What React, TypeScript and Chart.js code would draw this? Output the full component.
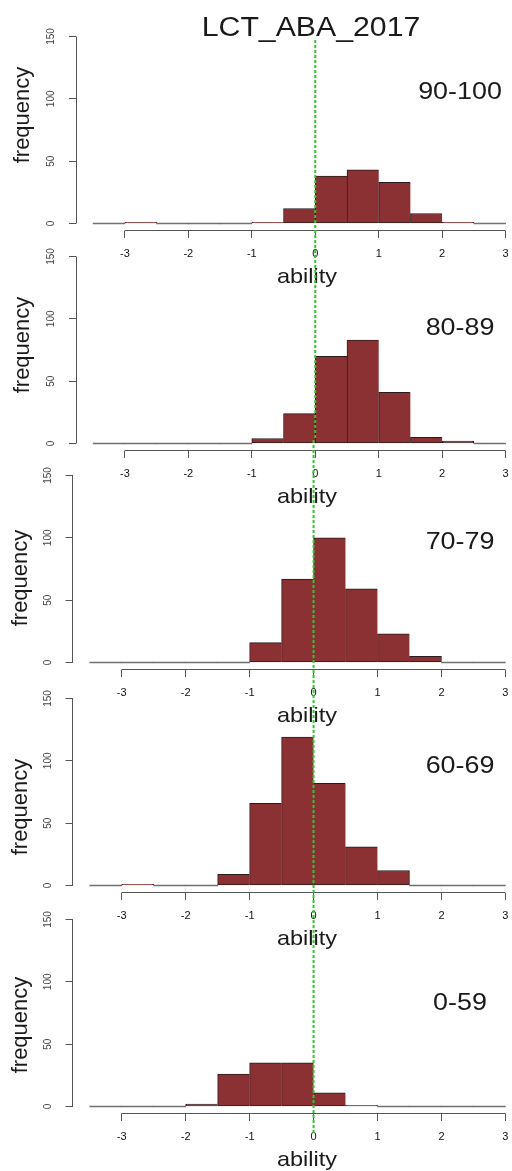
import React, { useEffect, useRef } from "react";
import { Chart, registerables } from "chart.js";

Chart.register(...registerables);

// ---------------- data ----------------
const chartTitle = "LCT_ABA_2017";
const xAxisLabel = "ability";
const yAxisLabel = "frequency";
const binCenters = [-3.25, -2.75, -2.25, -1.75, -1.25, -0.75, -0.25, 0.25, 0.75, 1.25, 1.75, 2.25, 2.75];
const groupLabels = ["90-100", "80-89", "70-79", "60-69", "0-59"];
const counts90to100 = [0, 1, 0, 0, 0, 1, 12, 38, 43, 33, 8, 1, 0];
const counts80to89 = [0, 0, 0, 0, 0, 4, 24, 70, 83, 41, 5, 2, 0];
const counts70to79 = [0, 0, 0, 0, 0, 16, 67, 100, 59, 23, 5, 0, 0];
const counts60to69 = [0, 1, 0, 0, 9, 66, 119, 82, 31, 12, 0, 0, 0];
const counts0to59 = [0, 0, 0, 2, 26, 35, 35, 11, 1, 0, 0, 0, 0];
const xTickValues = [-3, -2, -1, 0, 1, 2, 3];
const yTickValues = [0, 50, 100, 150];
const referenceLineValue = 0;

const allCounts = [counts90to100, counts80to89, counts70to79, counts60to69, counts0to59];

// ---------------- layout / style ----------------
const W = 538;
const H = 288;
const X_MIN = -3.77;
const X_MAX = 3.51;
const Y_MIN = -6;
const Y_MAX = 156;
const Y150_LOCAL = 36.5;
const AXIS_SPAN = 187;
const UNIT = AXIS_SPAN / 150;
const PAD_TOP = Y150_LOCAL - (Y_MAX - 150) * UNIT;
const AREA_BOTTOM = Y150_LOCAL + AXIS_SPAN + (0 - Y_MIN) * UNIT;
const X_AXIS_H = H - AREA_BOTTOM;

const panels = [
  { top: 0, left: 76, groupY: 90, freqY: 115, freqX: 29 },
  { top: 220, left: 76, groupY: 106.7, freqY: 125, freqX: 29 },
  { top: 439, left: 72.5, groupY: 101, freqY: 139, freqX: 27 },
  { top: 662, left: 72.5, groupY: 102, freqY: 145, freqX: 27 },
  { top: 883, left: 72.5, groupY: 118.7, freqY: 142, freqX: 27 },
];
const greenStart = 38;
const greenEnd = 1133;

const FONT = "'Liberation Sans', Arial, Helvetica, sans-serif";
const BAR_FILL = "#8b3033";
const BAR_EDGE = "#2a1c1c";
const ZERO_FILL = "#707070";
const AXIS_COLOR = "#555555";
const TEXT_COLOR = "#1a1a1a";
const GREEN = "#2fc82f";
const STRETCH = 1.12;

function drawText(
  ctx: CanvasRenderingContext2D,
  text: string,
  x: number,
  y: number,
  size: number,
  opts: { stretch?: number; rotate?: number; align?: CanvasTextAlign; baseline?: CanvasTextBaseline } = {}
) {
  ctx.save();
  ctx.translate(x, y);
  if (opts.rotate) ctx.rotate(opts.rotate);
  if (opts.stretch) ctx.scale(opts.stretch, 1);
  ctx.font = `${size}px ${FONT}`;
  ctx.fillStyle = TEXT_COLOR;
  ctx.textAlign = opts.align || "center";
  ctx.textBaseline = opts.baseline || "alphabetic";
  ctx.fillText(text, 0, 0);
  ctx.restore();
}

function Panel({ index }: { index: number }) {
  const ref = useRef<HTMLCanvasElement>(null);
  const p = panels[index];

  useEffect(() => {
    const canvas = ref.current;
    if (!canvas) return;
    const counts = allCounts[index];
    const segStart = index === 0 ? greenStart : p.top;
    const segEnd = index === panels.length - 1 ? greenEnd : panels[index + 1].top;

    const overlay = {
      id: "rOverlay",
      afterDraw(chart: any) {
        const { ctx, chartArea } = chart;
        const xs = chart.scales.x;
        const ys = chart.scales.y;
        const al = (v: number) => Math.round(v - 0.5) + 0.5;
        ctx.save();
        ctx.strokeStyle = AXIS_COLOR;
        ctx.lineWidth = 1;
        // x axis line (tick range only, R style)
        const ay = al(chartArea.bottom);
        ctx.beginPath();
        ctx.moveTo(al(xs.getPixelForValue(xTickValues[0])), ay);
        ctx.lineTo(al(xs.getPixelForValue(xTickValues[xTickValues.length - 1])), ay);
        ctx.stroke();
        // y axis line
        const ax = al(chartArea.left);
        ctx.beginPath();
        ctx.moveTo(ax, al(ys.getPixelForValue(yTickValues[0])));
        ctx.lineTo(ax, al(ys.getPixelForValue(yTickValues[yTickValues.length - 1])));
        ctx.stroke();
        ctx.restore();

        // texts
        if (index === 0) drawText(ctx, chartTitle, 311, 36, 27, { stretch: STRETCH });
        drawText(ctx, groupLabels[index], 460, p.groupY + 8.6, 24, { stretch: STRETCH });
        drawText(ctx, yAxisLabel, p.freqX, p.freqY, 22, { rotate: -Math.PI / 2 });
        drawText(ctx, xAxisLabel, 307, chartArea.bottom + 52, 21, { stretch: STRETCH });

        // green dashed reference line
        ctx.save();
        ctx.strokeStyle = GREEN;
        ctx.lineWidth = 2;
        ctx.setLineDash([3, 2]);
        ctx.lineDashOffset = segStart;
        const gx = xs.getPixelForValue(referenceLineValue);
        ctx.beginPath();
        ctx.moveTo(gx, segStart - p.top);
        ctx.lineTo(gx, segEnd - p.top);
        ctx.stroke();
        ctx.restore();
      },
    };

    const chart = new Chart(canvas, {
      type: "bar",
      data: {
        datasets: [
          {
            data: binCenters.map((x, i) => ({ x, y: counts[i] })),
            backgroundColor: (c: any) => (c.raw && c.raw.y === 0 ? ZERO_FILL : BAR_FILL),
            borderColor: BAR_EDGE,
            borderWidth: (c: any) => {
              const i = c.dataIndex;
              if (i === undefined) return 1;
              if (counts[i] === 0) return 0;
              const nextZero = i === counts.length - 1 || counts[i + 1] === 0;
              return { top: 1, left: 1, bottom: 1, right: nextZero ? 1 : 0 };
            },
            borderSkipped: false,
            minBarLength: 1,
            categoryPercentage: 1,
            barPercentage: 1,
            grouped: false,
          } as any,
        ],
      },
      options: {
        responsive: false,
        animation: false,
        devicePixelRatio: 1,
        layout: { padding: { top: PAD_TOP, left: 0, right: 0, bottom: 0 } },
        plugins: {
          legend: { display: false },
          tooltip: { enabled: false },
          title: { display: false },
        },
        scales: {
          x: {
            type: "linear",
            min: X_MIN,
            max: X_MAX,
            offset: false,
            border: { display: false },
            grid: {
              offset: false,
              drawOnChartArea: false,
              drawTicks: true,
              tickLength: 7,
              color: AXIS_COLOR,
              lineWidth: 1,
            },
            ticks: {
              autoSkip: false,
              includeBounds: false,
              minRotation: 0,
              maxRotation: 0,
              padding: 9,
              color: "#111",
              font: { family: FONT, size: 11 },
              callback: (v: any) => String(v),
            },
            afterBuildTicks: (s: any) => {
              s.ticks = xTickValues.map((v) => ({ value: v }));
            },
            afterFit: (s: any) => {
              s.height = X_AXIS_H;
            },
          },
          y: {
            type: "linear",
            min: Y_MIN,
            max: Y_MAX,
            border: { display: false },
            grid: {
              drawOnChartArea: false,
              drawTicks: true,
              tickLength: 7,
              color: AXIS_COLOR,
              lineWidth: 1,
            },
            ticks: {
              autoSkip: false,
              includeBounds: false,
              minRotation: 90,
              maxRotation: 90,
              crossAlign: "center",
              padding: 9,
              color: "#444",
              font: { family: FONT, size: 10 },
              callback: (v: any) => String(v),
            },
            afterBuildTicks: (s: any) => {
              s.ticks = yTickValues.map((v) => ({ value: v }));
            },
            afterFit: (s: any) => {
              s.width = p.left;
            },
          },
        } as any,
      },
      plugins: [overlay],
    });
    return () => chart.destroy();
  }, [index]);

  return (
    <canvas
      ref={ref}
      width={W}
      height={H}
      style={{ position: "absolute", left: 0, top: p.top, width: W, height: H, display: "block" }}
    />
  );
}

export default function App() {
  return (
    <div
      style={{
        position: "absolute",
        left: 0,
        top: 0,
        width: 512,
        height: 1171,
        overflow: "hidden",
        background: "#ffffff",
      }}
    >
      {panels.map((_, i) => (
        <Panel key={i} index={i} />
      ))}
    </div>
  );
}
